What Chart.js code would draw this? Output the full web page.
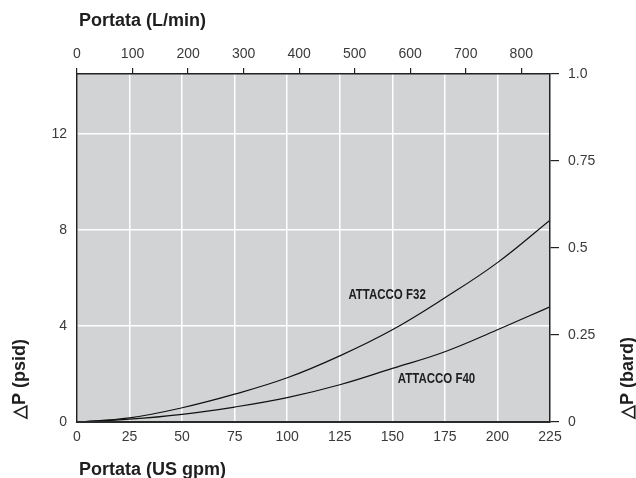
<!DOCTYPE html>
<html>
<head>
<meta charset="utf-8">
<script src="https://cdn.jsdelivr.net/npm/chart.js@4.4.0/dist/chart.umd.min.js"></script>
<style>
  html, body { margin: 0; padding: 0; background: #fff; }
  #wrap { width: 636px; height: 478px; }
</style>
</head>
<body>
<div id="wrap"><canvas id="dpChart" width="636" height="478"></canvas></div>
<script>
// flow (US gpm) and pressure drop (bar)
const flowGpm = [0, 25, 50, 75, 100, 125, 150, 175, 200, 225];
const dpF32 = [0, 0.012, 0.041, 0.080, 0.127, 0.190, 0.265, 0.357, 0.458, 0.580];
const dpF40 = [0, 0.008, 0.022, 0.043, 0.070, 0.107, 0.154, 0.202, 0.265, 0.331];
const seriesNames = ['ATTACCO F32', 'ATTACCO F40'];

// tick values for the four axes
const gpmTicks = [0, 25, 50, 75, 100, 125, 150, 175, 200, 225];
const lminTicks = [0, 100, 200, 300, 400, 500, 600, 700, 800];
const psiTicks = [0, 4, 8, 12];
const barTicks = [0, 0.25, 0.5, 0.75, 1.0];
const barTickLabels = ['0', '0.25', '0.5', '0.75', '1.0'];

const GPM_TO_LMIN = 3.78541;
const BAR_TO_PSI = 14.5038;

// where the curve names sit (gpm, bar)
const nameSpots = [{ x: 147.5, y: 0.364 }, { x: 171, y: 0.122 }];

const tickFont = { family: '"Liberation Sans", Arial, sans-serif', size: 14 };
const tickColor = '#3a3a3a';

const plotBg = {
    id: 'plotBg',
    beforeDraw(chart) {
        const { ctx, chartArea: a } = chart;
        ctx.save();
        ctx.fillStyle = '#d1d3d4';
        ctx.fillRect(a.left, a.top, a.right - a.left, a.bottom - a.top);
        ctx.restore();
    }
};

const textLayer = {
    id: 'textLayer',
    afterDraw(chart) {
        const ctx = chart.ctx;
        const x = chart.scales.x;
        const y2 = chart.scales.y2;
        ctx.save();
        ctx.fillStyle = '#1e1e1e';
        ctx.textAlign = 'center';
        ctx.textBaseline = 'middle';
        ctx.font = 'bold 14px "Liberation Sans", Arial, sans-serif';
        // the names are set in a condensed face: squeeze them sideways
        seriesNames.forEach((n, i) => {
            ctx.save();
            ctx.translate(x.getPixelForValue(nameSpots[i].x), y2.getPixelForValue(nameSpots[i].y));
            ctx.scale(0.82, 1);
            ctx.fillText(n, 0, 0);
            ctx.restore();
        });

        // axis titles
        ctx.font = 'bold 18px "Liberation Sans", Arial, sans-serif';
        ctx.textAlign = 'left';
        ctx.textBaseline = 'alphabetic';
        ctx.fillText('Portata (L/min)', 79, 26);
        ctx.fillText('Portata (US gpm)', 79, 475);

        ctx.save();
        ctx.translate(25, 419);
        ctx.rotate(-Math.PI / 2);
        ctx.fillText('△P (psid)', 0, 0);
        ctx.restore();

        ctx.save();
        ctx.translate(633, 419);
        ctx.rotate(-Math.PI / 2);
        ctx.fillText('△P (bard)', 0, 0);
        ctx.restore();

        ctx.restore();
    }
};

function makeCurve(label, values) {
    return {
        label: label,
        data: flowGpm.map((q, i) => ({ x: q, y: values[i] })),
        xAxisID: 'x',
        yAxisID: 'y2',
        borderColor: '#111',
        borderWidth: 1.2,
        pointRadius: 0,
        fill: false,
        tension: 0.4
    };
}

new Chart(document.getElementById('dpChart'), {
    type: 'line',
    data: {
        datasets: [makeCurve(seriesNames[0], dpF32), makeCurve(seriesNames[1], dpF40)]
    },
    options: {
        responsive: false,
        animation: false,
        layout: { padding: 0 },
        plugins: { legend: { display: false }, tooltip: { enabled: false } },
        scales: {
            x: {
                type: 'linear', position: 'bottom', min: 0, max: 225,
                afterBuildTicks: s => { s.ticks = gpmTicks.map(v => ({ value: v })); },
                afterFit: s => { s.height = 56; },
                grid: { color: '#fff', lineWidth: 1.5, drawTicks: false },
                border: { color: '#2a2a2a', width: 2, z: 1 },
                ticks: { padding: 7, color: tickColor, font: tickFont, maxRotation: 0, autoSkip: false }
            },
            x2: {
                type: 'linear', position: 'top', min: 0, max: 225 * GPM_TO_LMIN,
                afterBuildTicks: s => { s.ticks = lminTicks.map(v => ({ value: v })); },
                afterFit: s => { s.height = 74; },
                grid: { drawOnChartArea: false, color: '#222', tickLength: 6, lineWidth: 1.2 },
                border: { color: '#222', width: 1.5, z: 1 },
                ticks: { padding: 5, color: tickColor, font: tickFont, maxRotation: 0, autoSkip: false }
            },
            y: {
                type: 'linear', position: 'left', min: 0, max: BAR_TO_PSI,
                afterBuildTicks: s => { s.ticks = psiTicks.map(v => ({ value: v })); },
                afterFit: s => { s.width = 77; },
                grid: { color: '#fff', lineWidth: 1.5, drawTicks: false },
                border: { color: '#222', width: 1.5, z: 1 },
                ticks: { padding: 10, color: tickColor, font: tickFont }
            },
            y2: {
                type: 'linear', position: 'right', min: 0, max: 1,
                afterBuildTicks: s => { s.ticks = barTicks.map(v => ({ value: v })); },
                afterFit: s => { s.width = 86; },
                grid: { drawOnChartArea: false, color: '#222', tickLength: 9, lineWidth: 1.2 },
                border: { color: '#222', width: 1.5, z: 1 },
                ticks: { padding: 9, color: tickColor, font: tickFont, callback: (v, i) => barTickLabels[i] }
            }
        }
    },
    plugins: [plotBg, textLayer]
});
</script>
</body>
</html>
